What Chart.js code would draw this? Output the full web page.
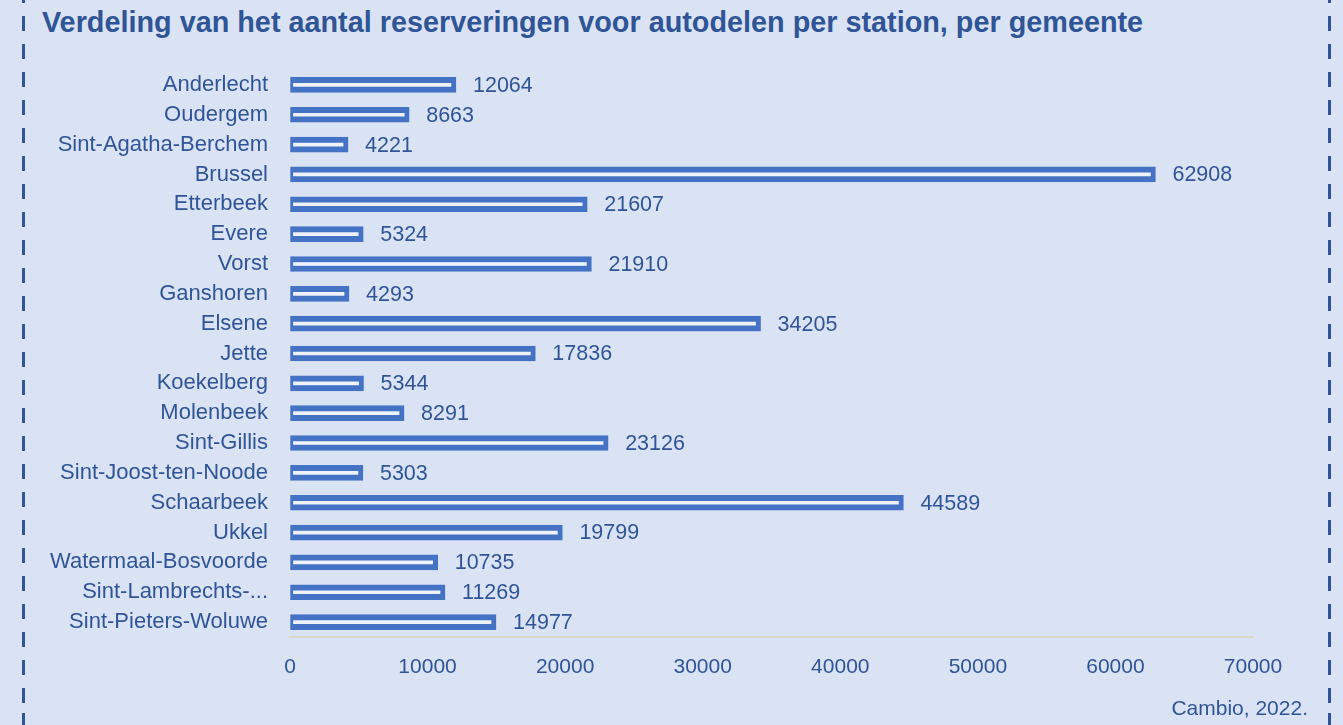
<!DOCTYPE html>
<html>
<head>
<meta charset="utf-8">
<script src="https://cdn.jsdelivr.net/npm/chart.js@4.4.0/dist/chart.umd.min.js"></script>
<style>
    html, body { margin: 0; padding: 0; }
    body { width: 1343px; height: 725px; background: #DAE3F3; position: relative; overflow: hidden; }
    .dash { position: absolute; top: 0; width: 3px; height: 725px;
        background: repeating-linear-gradient(to bottom, #2F5597 0px, #2F5597 15px, transparent 15px, transparent 28px); }
    #title { position: absolute; left: 42px; top: 5px; margin: 0; color: #2F5597;
        font: bold 30px "Liberation Sans Narrow", "Liberation Sans", sans-serif; white-space: nowrap;
        transform-origin: 0 0; transform: scaleX(0.96); }
    #source { position: absolute; right: 35px; top: 696px; color: #2F5597;
        font: 21px "Liberation Sans", sans-serif; }
    #wrap { position: absolute; left: 0; top: 0; width: 1343px; height: 725px; }
</style>
</head>
<body>
<div class="dash" style="left:22px; background-position: 0 -12px;"></div>
<div class="dash" style="left:1328px; background-position: 0 -12px;"></div>
<h1 id="title">Verdeling van het aantal reserveringen voor autodelen per station, per gemeente</h1>
<div id="wrap"><canvas id="barChart" width="1343" height="725"></canvas></div>
<div id="source">Cambio, 2022.</div>
<script>
const gemeenten = ["Anderlecht", "Oudergem", "Sint-Agatha-Berchem", "Brussel", "Etterbeek", "Evere", "Vorst",
    "Ganshoren", "Elsene", "Jette", "Koekelberg", "Molenbeek", "Sint-Gillis", "Sint-Joost-ten-Noode",
    "Schaarbeek", "Ukkel", "Watermaal-Bosvoorde", "Sint-Lambrechts-...", "Sint-Pieters-Woluwe"];
const reserveringen = [12064, 8663, 4221, 62908, 21607, 5324, 21910, 4293, 34205, 17836, 5344, 8291,
    23126, 5303, 44589, 19799, 10735, 11269, 14977];
const xTicks = [0, 10000, 20000, 30000, 40000, 50000, 60000, 70000];

const textBlue = "#2F5597";

// value labels next to each bar
const valueLabels = {
    id: "valueLabels",
    afterDatasetsDraw(chart) {
        const ctx = chart.ctx;
        const meta = chart.getDatasetMeta(0);
        ctx.save();
        ctx.font = '21.5px "Liberation Sans", sans-serif';
        ctx.fillStyle = textBlue;
        ctx.textAlign = "left";
        ctx.textBaseline = "middle";
        meta.data.forEach((bar, i) => {
            ctx.fillText(String(reserveringen[i]), bar.x + 17, bar.y + 1);
        });
        ctx.restore();
    }
};

const ctx = document.getElementById("barChart").getContext("2d");
new Chart(ctx, {
    type: "bar",
    data: {
        labels: gemeenten,
        datasets: [{
            data: reserveringen,
            backgroundColor: "#EEF2FA",
            borderColor: "#4472C4",
            borderWidth: { top: 6, bottom: 6, left: 3, right: 5 },
            borderSkipped: false,
            barThickness: 15
        }]
    },
    plugins: [valueLabels],
    options: {
        indexAxis: "y",
        responsive: false,
        animation: false,
        layout: { padding: { top: 70, right: 90, bottom: 0, left: 0 } },
        plugins: {
            legend: { display: false },
            tooltip: { enabled: false }
        },
        scales: {
            x: {
                min: 0,
                max: 70000,
                afterBuildTicks: axis => { axis.ticks = xTicks.map(v => ({ value: v })); },
                afterFit: axis => { axis.height = 88; },
                grid: { color: "transparent", drawTicks: false },
                border: { display: true, color: "#DDD8CB", width: 2 },
                ticks: {
                    color: textBlue,
                    padding: 18,
                    maxRotation: 0,
                    font: { family: "Liberation Sans", size: 21 },
                    callback: v => String(v)
                }
            },
            y: {
                afterFit: axis => { axis.width = 290; },
                grid: { display: false, drawTicks: false },
                border: { display: false },
                ticks: {
                    color: textBlue,
                    padding: 22,
                    autoSkip: false,
                    font: { family: "Liberation Sans", size: 22 }
                }
            }
        }
    }
});
</script>
</body>
</html>
